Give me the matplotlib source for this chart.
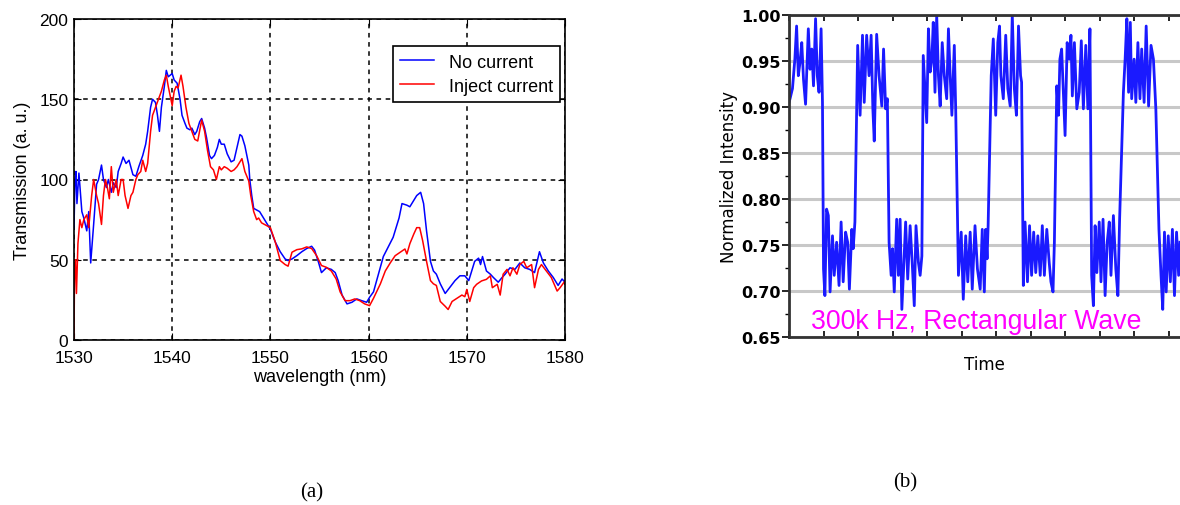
import numpy as np
import matplotlib
matplotlib.use('Agg')
import matplotlib.pyplot as plt
from matplotlib.ticker import MultipleLocator, FormatStrFormatter

# ── (a) transmission spectra ──
wl_blue = [1530.0, 1530.1, 1530.2, 1530.3, 1530.5, 1530.8, 1531.0, 1531.3, 1531.5, 1531.7,
           1532.0, 1532.3, 1532.5, 1532.8, 1533.0, 1533.3, 1533.5, 1533.8, 1534.0, 1534.3,
           1534.5, 1534.8, 1535.0, 1535.3, 1535.6, 1536.0, 1536.3, 1536.6, 1537.0, 1537.3,
           1537.5, 1537.8, 1538.0, 1538.3, 1538.5, 1538.7, 1538.9, 1539.2, 1539.4, 1539.6,
           1539.8, 1540.0, 1540.2, 1540.5, 1540.8, 1541.0, 1541.3, 1541.5, 1541.8, 1542.0,
           1542.3, 1542.5, 1542.8, 1543.0, 1543.3, 1543.5, 1543.8, 1544.0, 1544.3, 1544.6,
           1544.8, 1545.0, 1545.3, 1545.6, 1546.0, 1546.3, 1546.6, 1546.9, 1547.1, 1547.4,
           1547.8, 1547.9, 1548.1, 1548.3, 1548.6, 1548.9, 1549.2, 1549.5, 1550.0, 1550.5,
           1551.0, 1551.5, 1551.8, 1552.2, 1552.7, 1553.2, 1553.7, 1554.2, 1554.5, 1554.9,
           1555.2, 1555.7, 1556.2, 1556.6, 1556.9, 1557.3, 1557.8, 1558.3, 1558.8, 1559.3,
           1559.8, 1560.1, 1560.5, 1561.0, 1561.5, 1562.0, 1562.5, 1563.1, 1563.4, 1563.9,
           1564.2, 1564.6, 1564.9, 1565.3, 1565.6, 1565.9, 1566.3, 1566.6, 1566.9, 1567.3,
           1567.8, 1568.3, 1568.8, 1569.3, 1569.8, 1570.2, 1570.5, 1570.8, 1571.2, 1571.4,
           1571.6, 1572.0, 1572.4, 1572.7, 1573.2, 1573.6, 1573.9, 1574.4, 1574.9, 1575.4,
           1575.9, 1576.4, 1576.9, 1577.4, 1577.8, 1578.3, 1578.8, 1579.3, 1579.7, 1580.0]
tr_blue = [70, 100, 105, 85, 104, 80, 76, 68, 80, 48,
           72, 97, 100, 109, 100, 95, 100, 92, 98, 95,
           105, 110, 114, 110, 112, 103, 102, 108, 115, 122,
           130, 145, 150, 148, 140, 130, 145, 158, 168, 164,
           165, 166, 162, 160, 150, 140, 135, 132, 131, 132,
           128, 130, 136, 138, 132, 126, 115, 113, 115, 120,
           125, 122, 122, 116, 111, 112, 120, 128, 127, 121,
           109, 100, 90, 82, 81, 80, 77, 74, 69, 61,
           55, 50.5, 49.5, 50.5, 52.6, 55, 57, 58.4, 56, 48.4,
           42, 45, 44, 42, 37, 28, 22.5, 23.5, 25.6, 24.5,
           23.5, 26.6, 30, 41, 52, 58, 64, 76, 85, 84,
           83, 87, 90, 92, 85, 68, 49, 43, 41, 35,
           29, 33, 37, 40, 40, 37, 43, 49, 51, 47,
           52, 43, 41, 39, 36, 39, 41, 45, 44, 48,
           45, 44, 42, 55, 48, 43, 39, 34, 38, 36]

wl_red = [1530.0, 1530.05, 1530.15, 1530.25, 1530.4, 1530.6, 1530.8, 1531.0, 1531.3, 1531.5,
          1531.8, 1532.0, 1532.3, 1532.5, 1532.8, 1533.0, 1533.2, 1533.4, 1533.6, 1533.8,
          1534.0, 1534.3, 1534.5, 1534.8, 1535.0, 1535.2, 1535.5, 1535.8, 1536.0, 1536.3,
          1536.5, 1536.8, 1537.0, 1537.3, 1537.5, 1537.8, 1538.0, 1538.3, 1538.6, 1538.9,
          1539.2, 1539.4, 1539.6, 1539.8, 1540.0, 1540.2, 1540.4, 1540.6, 1540.9, 1541.1,
          1541.4, 1541.7, 1542.0, 1542.3, 1542.6, 1543.0, 1543.3, 1543.6, 1543.9, 1544.2,
          1544.5, 1544.8, 1545.0, 1545.3, 1545.6, 1546.0, 1546.3, 1546.6, 1547.1, 1547.4,
          1547.8, 1548.0, 1548.3, 1548.6, 1548.8, 1549.1, 1549.4, 1549.7, 1550.0, 1550.5,
          1551.0, 1551.5, 1551.8, 1552.2, 1552.7, 1553.2, 1553.7, 1554.2, 1554.7, 1555.2,
          1555.7, 1556.2, 1556.7, 1557.1, 1557.6, 1558.1, 1558.6, 1559.1, 1559.6, 1560.1,
          1560.5, 1561.2, 1561.7, 1562.2, 1562.7, 1563.2, 1563.7, 1563.9, 1564.2, 1564.6,
          1564.9, 1565.2, 1565.5, 1565.9, 1566.3, 1566.6, 1566.9, 1567.3, 1567.8, 1568.1,
          1568.5, 1569.0, 1569.5, 1569.8, 1570.0, 1570.3, 1570.7, 1571.0, 1571.5, 1572.0,
          1572.4, 1572.6, 1573.1, 1573.4, 1573.7, 1574.1, 1574.4, 1574.7, 1575.1, 1575.4,
          1575.8, 1576.1, 1576.6, 1576.9, 1577.3, 1577.6, 1578.1, 1578.6, 1579.2, 1579.5, 1580.0]
tr_red = [0, 40, 50, 29, 60, 75, 70, 75, 78, 70,
          90, 100, 90, 85, 72, 90, 100, 95, 88, 108,
          92, 100, 90, 100, 100, 90, 82, 90, 92, 100,
          103, 105, 112, 105, 110, 130, 140, 145, 150, 155,
          162, 165, 158, 152, 146, 155, 158, 157, 165, 158,
          145, 135, 130, 125, 124, 137, 130, 118, 108, 106,
          100, 108, 106, 108, 107, 105, 106, 108, 113, 105,
          99, 90, 80, 75, 76, 73, 72, 71, 70, 61,
          49.5, 47, 46, 54.7, 56.3, 56.8, 58, 57, 52.6, 46.4,
          45.3, 43, 38, 30, 24.5, 24.5, 25.6, 24.5, 22.5, 21.4,
          26, 35, 43, 48, 52.5, 54.6, 56.7, 53.6, 60, 66,
          70, 70, 62, 49, 37, 35, 34, 24, 21, 19,
          24, 26, 28, 27, 31.5, 24, 32.6, 34.7, 36.8, 37.8,
          40, 32.6, 34.7, 28, 41, 44, 40, 45, 41, 47,
          49, 45, 47, 32.6, 44, 47, 43, 39, 30.5, 32.6, 36.8]

# ── (b) modulated intensity, time in tick units ──
t_wave = [0.00, 0.03, 0.10, 0.17, 0.22, 0.27, 0.32, 0.37, 0.42, 0.48, 0.56, 0.61, 0.66, 0.71,
          0.77, 0.82, 0.87, 0.93, 0.97,
          1.00, 1.04, 1.09, 1.14, 1.19, 1.26, 1.31, 1.38, 1.45, 1.51, 1.57, 1.64, 1.70, 1.75,
          1.82, 1.86, 1.91,
          1.99, 2.06, 2.13, 2.18, 2.25, 2.32, 2.38, 2.43, 2.47, 2.54, 2.61, 2.69, 2.74, 2.80, 2.85,
          2.90, 2.96, 3.00, 3.05, 3.12, 3.17, 3.22, 3.27, 3.33, 3.38, 3.44, 3.51, 3.57, 3.63,
          3.68, 3.75, 3.80, 3.85,
          3.89, 3.94, 3.99, 4.04, 4.09, 4.14, 4.18, 4.23, 4.28, 4.33, 4.38, 4.44, 4.50, 4.57,
          4.62, 4.67, 4.72, 4.79, 4.83,
          4.91, 4.99, 5.05, 5.12, 5.18, 5.25, 5.31, 5.39, 5.46, 5.54, 5.60, 5.66, 5.70, 5.74, 5.77,
          5.86, 5.92, 5.99, 6.05, 6.10, 6.14, 6.21, 6.28, 6.34, 6.41, 6.47, 6.53, 6.59, 6.65,
          6.71, 6.74,
          6.79, 6.84, 6.91, 6.97, 7.03, 7.09, 7.15, 7.21, 7.28, 7.34, 7.40, 7.47, 7.54, 7.59,
          7.65, 7.69,
          7.76, 7.81, 7.85, 7.90, 7.95, 8.00, 8.06, 8.12, 8.17, 8.21, 8.27, 8.34, 8.41, 8.47,
          8.53, 8.60, 8.66, 8.72,
          8.77, 8.82, 8.87, 8.92, 8.99, 9.04, 9.10, 9.16, 9.22, 9.28, 9.33, 9.40, 9.47, 9.53, 9.58,
          9.69, 9.74, 9.79, 9.84, 9.89, 9.93, 10.00, 10.05, 10.11, 10.17, 10.22, 10.29, 10.35,
          10.42, 10.49, 10.56, 10.63,
          10.72, 10.78, 10.83, 10.88, 10.93, 10.99, 11.05, 11.11, 11.17, 11.23, 11.29, 11.33]
i_wave = [0.905, 0.909, 0.920, 0.952, 0.988, 0.934, 0.949, 0.970, 0.930, 0.903, 0.985, 0.941, 0.963, 0.923,
          0.996, 0.934, 0.916, 0.985, 0.905,
          0.724, 0.695, 0.789, 0.782, 0.699, 0.760, 0.717, 0.753, 0.706, 0.775, 0.710, 0.764, 0.753, 0.702,
          0.767, 0.746, 0.775,
          0.967, 0.891, 0.978, 0.905, 0.978, 0.934, 0.978, 0.898, 0.863, 0.979, 0.934, 0.901, 0.963, 0.898, 0.909,
          0.753, 0.717, 0.746, 0.699, 0.778, 0.717, 0.778, 0.680, 0.731, 0.775, 0.713, 0.771, 0.731, 0.684,
          0.771, 0.731, 0.717, 0.738,
          0.956, 0.920, 0.883, 0.985, 0.938, 0.952, 0.992, 0.916, 1.000, 0.934, 0.901, 0.970, 0.934, 0.909,
          0.985, 0.934, 0.891, 0.967, 0.898,
          0.717, 0.764, 0.691, 0.760, 0.710, 0.764, 0.702, 0.771, 0.724, 0.702, 0.767, 0.699, 0.767, 0.735, 0.771,
          0.934, 0.974, 0.891, 0.970, 0.988, 0.934, 0.909, 0.978, 0.920, 0.901, 1.000, 0.920, 0.891, 0.988,
          0.934, 0.927,
          0.706, 0.775, 0.710, 0.771, 0.717, 0.764, 0.720, 0.760, 0.717, 0.771, 0.717, 0.767, 0.731, 0.710,
          0.699, 0.753,
          0.923, 0.891, 0.952, 0.963, 0.916, 0.869, 0.970, 0.952, 0.978, 0.912, 0.970, 0.898, 0.916, 0.972,
          0.898, 0.967, 0.898, 0.985,
          0.717, 0.684, 0.771, 0.720, 0.775, 0.710, 0.778, 0.695, 0.753, 0.775, 0.717, 0.782, 0.724, 0.695, 0.778,
          0.916, 0.952, 0.996, 0.916, 0.992, 0.909, 0.952, 0.905, 0.970, 0.909, 0.963, 0.905, 0.988,
          0.901, 0.967, 0.952, 0.898,
          0.767, 0.717, 0.680, 0.764, 0.699, 0.760, 0.710, 0.767, 0.695, 0.764, 0.717, 0.753]

fig = plt.figure(figsize=(11.8, 5.06), dpi=100)
plt.rcParams['font.family'] = ['Liberation Sans', 'DejaVu Sans']

# ── panel (a) ──
ax = fig.add_axes([74/1180, 1 - 341/506, 491/1180, 321/506])
ax.plot(wl_blue, tr_blue, color='#0000ff', lw=1.1, label='No current')
ax.plot(wl_red, tr_red, color='#ff0000', lw=1.1, label='Inject current')
ax.set_xlim(1530, 1580)
ax.set_ylim(0, 200)
ax.set_xticks([1530, 1540, 1550, 1560, 1570, 1580])
ax.set_yticks([0, 50, 100, 150, 200])
ax.grid(True, color='black', ls=(0, (3, 3)), lw=1.1)
ax.tick_params(direction='in', length=5, top=True, right=True, labelsize=12.5)
ax.tick_params(axis='x', pad=7)
ax.tick_params(axis='y', pad=4)
for s in ax.spines.values():
    s.set_linewidth(1.2)
ax.set_xlabel('wavelength (nm)', fontsize=13, labelpad=2)
ax.set_ylabel('Transmission (a. u.)', fontsize=13, labelpad=6)
leg = ax.legend(loc='upper right', bbox_to_anchor=(0.99, 0.915), fontsize=13,
                fancybox=False, edgecolor='black', framealpha=1, borderpad=0.4,
                handlelength=1.9, handletextpad=0.8, labelspacing=0.4, borderaxespad=0)
leg.get_frame().set_linewidth(1.2)

# ── panel (b) ──
bx = fig.add_axes([789/1180, 1 - 338/506, 1 - 789/1180, 322/506])
bx.plot(t_wave, i_wave, color='#1a1aff', lw=2.0)
bx.set_xlim(0, 11.33)
bx.set_ylim(0.65, 1.00)
bx.yaxis.set_major_locator(MultipleLocator(0.05))
bx.yaxis.set_minor_locator(MultipleLocator(0.025))
bx.xaxis.set_major_locator(MultipleLocator(1))
bx.yaxis.grid(True, color='#c8c8c8', lw=2.2)
bx.set_axisbelow(True)
bx.tick_params(axis='y', direction='out', length=5, width=1.2, labelsize=11.5, pad=1)
bx.tick_params(axis='y', which='minor', direction='out', length=3, width=1.0)
bx.tick_params(axis='x', direction='in', length=4, width=1.2, top=True, labelbottom=False)
bx.yaxis.set_major_formatter(FormatStrFormatter('%.2f'))
for lab in bx.get_yticklabels():
    lab.set_fontweight('bold')
    lab.set_family('DejaVu Sans')
for name, s in bx.spines.items():
    s.set_linewidth(2.0)
    s.set_color('#333333')
bx.spines['right'].set_visible(False)
bx.set_ylabel('Normalized Intensity', fontsize=12, labelpad=2, family='DejaVu Sans')
bx.set_xlabel('Time', fontsize=12, labelpad=13, family='DejaVu Sans')
bx.text(0.055, 0.008, '300k Hz, Rectangular Wave', transform=bx.transAxes,
        color='#ff00ff', fontsize=19.2, va='bottom', ha='left')

# captions
fig.text(312/1180, 1 - 493/506, '(a)', fontsize=15, family='Liberation Serif',
         ha='center', va='center')
fig.text(905/1180, 1 - 483/506, '(b)', fontsize=15, family='Liberation Serif',
         ha='center', va='center')

fig.savefig('out.png', dpi=100)
